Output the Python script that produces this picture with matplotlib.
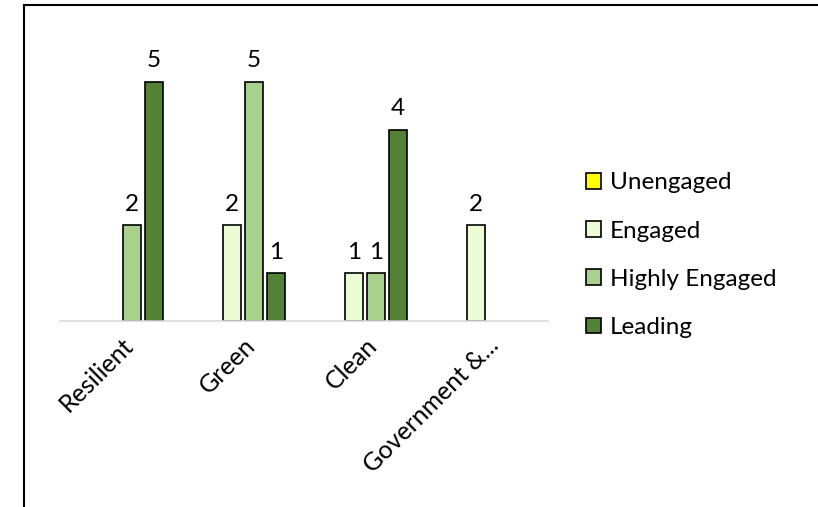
import matplotlib
matplotlib.use("Agg")
import matplotlib.pyplot as plt
from matplotlib.lines import Line2D
import numpy as np

plt.rcParams['font.family'] = ['Lato', 'DejaVu Sans']

categories = ["Resilient", "Green", "Clean", "Government &..."]
series_names = ["Unengaged", "Engaged", "Highly Engaged", "Leading"]
unengaged = [0, 0, 0, 0]
engaged = [0, 2, 1, 2]
highly_engaged = [2, 5, 1, 0]
leading = [5, 1, 4, 0]
colors = ["#ffff00", "#ebfcd7", "#a9d18e", "#538135"]

series = [unengaged, engaged, highly_engaged, leading]

fig = plt.figure(figsize=(8.18, 5.07), dpi=100)
ax = fig.add_axes([0.0733, 0.367, 0.5967, 0.566])

x = np.arange(len(categories))
slot = 0.18
width = 0.148
for i, (name, vals, c) in enumerate(zip(series_names, series, colors)):
    pos = x + (i - 1.5) * slot
    bars = ax.bar(pos, vals, width=width, color=c, edgecolor="black",
                  linewidth=1.2, label=name)
    for b, v in zip(bars, vals):
        if v > 0:
            ax.text(b.get_x() + b.get_width() / 2, v + 0.22, str(v),
                    ha="center", va="bottom", fontsize=17.5)
        else:
            b.set_edgecolor("none")

ax.set_xlim(-0.5, len(categories) - 0.5)
ax.set_ylim(0, 6)
ax.set_yticks([])
for s in ["top", "right", "left"]:
    ax.spines[s].set_visible(False)
ax.spines["bottom"].set_color("#d9d9d9")
ax.spines["bottom"].set_linewidth(1.2)
ax.set_xticks(x)
ax.set_xticklabels(categories, rotation=45, ha="right",
                   rotation_mode="anchor", fontsize=18)
ax.tick_params(axis="x", length=0, pad=9)

handles = [plt.Rectangle((0, 0), 1, 1, facecolor=c, edgecolor="black",
                         linewidth=1.2) for c in colors]
leg = fig.legend(handles, series_names, loc="upper left",
                 bbox_to_anchor=(0.69, 0.703),
                 frameon=False, fontsize=17.5, handlelength=0.62,
                 handleheight=0.62, handletextpad=0.35, labelspacing=1.12)

# figure border lines (left and top)
fig.add_artist(Line2D([24/818, 24/818], [0, 1 - 5/507], color="black",
                      linewidth=1.5, transform=fig.transFigure))
fig.add_artist(Line2D([24/818, 1], [1 - 5/507, 1 - 5/507], color="black",
                      linewidth=1.5, transform=fig.transFigure))

fig.savefig("out.png", dpi=100)
